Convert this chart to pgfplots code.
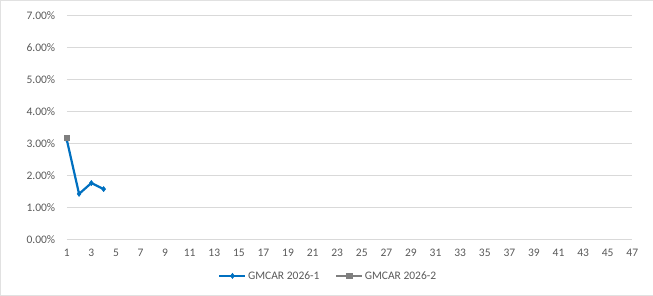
\documentclass[border=0pt]{standalone}
\usepackage{pgfplots}
\pgfplotsset{compat=1.18}
\usepackage{fontspec}
\setmainfont{Carlito}
\definecolor{sblue}{HTML}{0070C0}
\definecolor{sgray}{HTML}{7F7F7F}
\definecolor{gridc}{HTML}{D9D9D9}
\definecolor{txt}{HTML}{595959}
\newcommand{\lf}{\fontsize{11.5}{13}\selectfont}
\begin{document}
\begin{tikzpicture}
\draw[gridc!80] (0.5pt,0.5pt) rectangle (652.5pt,295.5pt);
\begin{axis}[
  at={(67pt,56.7pt)}, anchor=south west,
  scale only axis, width=565pt, height=223.3pt,
  xmin=1, xmax=47, ymin=0, ymax=7,
  xtick={1,3,...,47}, ytick={0,1,...,7},
  axis line style={draw=none},
  axis x line*=bottom,
  x axis line style={draw=gridc, line width=0.75pt},
  ymajorgrids, grid style={gridc, line width=0.75pt},
  major tick length=0pt,
  tick label style={font=\lf, text=txt},
  /pgf/number format/assume math mode=true,
  yticklabel={\pgfmathprintnumber[fixed,fixed zerofill,precision=2]{\tick}\%},
  xticklabel={\pgfmathprintnumber{\tick}},
  yticklabel style={xshift=-8pt},
  xticklabel style={yshift=-6pt},
  legend style={at={(0.462,-0.164)}, anchor=center, draw=none, fill=none,
    legend columns=2, font=\lf, text=txt,
    nodes={inner xsep=1.5pt, font=\lf, text=txt},
    /tikz/every even column/.append style={column sep=14pt}},
  legend image code/.code={\draw[#1] (0pt,0pt) -- (26pt,0pt); \draw[#1, mark repeat=2, mark phase=2] plot coordinates {(0pt,0pt) (13pt,0pt) (26pt,0pt)};},
  clip=false,
]
\addplot[sblue, line width=2.2pt, mark=diamond*, mark size=2.6pt, mark options={line width=0.5pt}] coordinates {(1,3.12) (2,1.42) (3,1.76) (4,1.57)};
\addlegendentry{\lf GMCAR 2026-1}
\addplot[sgray, line width=2.2pt, mark=square*, mark size=2.6pt, mark options={line width=0.5pt}] coordinates {(1,3.18)};
\addlegendentry{\lf GMCAR 2026-2}
\end{axis}
\end{tikzpicture}
\end{document}
